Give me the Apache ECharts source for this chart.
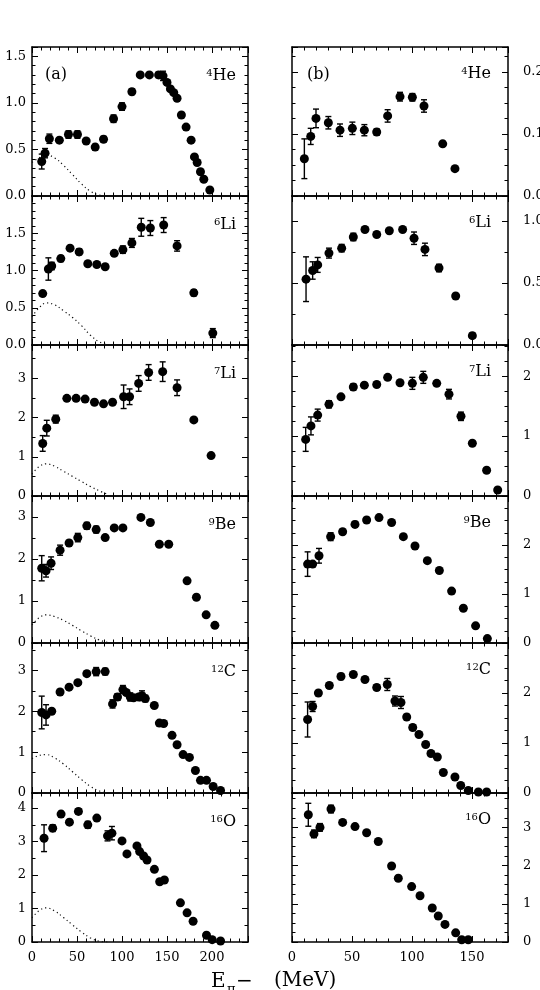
<!DOCTYPE html>
<html>
<head>
<meta charset="utf-8">
<script src="https://cdn.jsdelivr.net/npm/echarts@6/dist/echarts.min.js"></script>
<style>
  html, body { margin: 0; background: #fff; }
  #chart { width: 540px; height: 990px; }
</style>
</head>
<body>
<div id="chart"></div>
<script>
// [E (MeV), value, error]
const he4a = [[10.8,0.37,0.08],[14.5,0.46,0.05],[19.3,0.615,0.05],[30.4,0.60,0.02],[40.5,0.66,0.04],[50.5,0.66,0.04],[60.2,0.59,0.02],[70.2,0.525,0.03],[79.5,0.61,0.03],[90.6,0.83,0.04],[100,0.96,0.04],[111,1.12,0.03],[120.3,1.30,0.01],[130.4,1.30,0.01],[140.7,1.30,0.03],[145.6,1.29,0.05],[150,1.22,0.02],[153.8,1.15,0.02],[157.5,1.11,0.02],[161.2,1.05,0.02],[166,0.87,0.02],[171.2,0.74,0.02],[176.8,0.60,0.01],[180.5,0.42,0.02],[183.5,0.36,0.02],[187.2,0.26,0.02],[190.9,0.18,0.02],[197.6,0.065,0.01]];
const he4b = [[10.3,0.060,0.032],[15.6,0.096,0.013],[20,0.125,0.015],[30.3,0.118,0.01],[40,0.106,0.01],[50.3,0.109,0.01],[60.3,0.106,0.009],[70.6,0.103,0.005],[79.7,0.129,0.01],[90,0.160,0.007],[100.3,0.159,0.006],[110,0.145,0.01],[125.6,0.084,0.004],[135.8,0.044,0.003]];
const li6a = [[11.9,0.69,0.03],[18.2,1.02,0.15],[21.9,1.06,0.05],[32,1.16,0.04],[42.3,1.30,0.03],[52.4,1.25,0.04],[62,1.09,0.03],[72,1.08,0.02],[81.3,1.05,0.02],[91.4,1.23,0.02],[101,1.28,0.05],[111,1.37,0.06],[121.4,1.58,0.12],[131.5,1.57,0.1],[146.3,1.61,0.1],[161.2,1.33,0.07],[179.8,0.70,0.04],[200.9,0.16,0.06]];
const li6b = [[11.7,0.53,0.18],[17.2,0.60,0.07],[21.4,0.645,0.06],[30.8,0.74,0.04],[41.4,0.78,0.03],[51.1,0.87,0.03],[60.8,0.93,0.02],[70.6,0.89,0],[81.1,0.92,0.01],[92.2,0.93,0.01],[101.7,0.86,0.05],[110.8,0.77,0.05],[122.5,0.62,0.03],[136.4,0.395,0],[150.3,0.075,0.02]];
const li7a = [[11.9,1.34,0.2],[16.4,1.73,0.2],[26.4,1.96,0.1],[38.7,2.49,0.03],[49,2.49,0.03],[59,2.47,0.03],[69.4,2.39,0.03],[79.5,2.35,0.03],[89.5,2.39,0.03],[101.8,2.53,0.3],[108.4,2.53,0.2],[118.5,2.87,0.2],[129.6,3.15,0.2],[145.2,3.17,0.25],[161.2,2.76,0.2],[179.8,1.94,0.05],[199,1.03,0.03]];
const li7b = [[11.4,0.945,0.2],[15.8,1.17,0.15],[21.4,1.35,0.1],[30.8,1.53,0.06],[40.8,1.655,0.03],[51.1,1.82,0.05],[60.3,1.85,0.03],[70.6,1.86,0.03],[79.7,1.98,0.02],[90,1.89,0.02],[100.3,1.88,0.1],[109.4,1.98,0.1],[120.6,1.88,0.03],[130.8,1.70,0.08],[140.8,1.33,0.07],[150.3,0.88,0.02],[162.2,0.43,0.02],[171.4,0.10,0.02]];
const be9a = [[10.8,1.78,0.3],[15.6,1.72,0.15],[21.2,1.90,0.15],[31.2,2.21,0.12],[41.2,2.38,0.06],[50.9,2.51,0.1],[60.9,2.79,0.08],[71.3,2.70,0.08],[81.3,2.51,0.05],[91.4,2.74,0.03],[101,2.74,0.03],[121,2.99,0.03],[131.5,2.87,0.02],[141.5,2.35,0.02],[151.9,2.35,0.02],[172.3,1.48,0.02],[182.7,1.09,0.02],[193.5,0.67,0.02],[203.2,0.42,0.01]];
const be9b = [[13,1.61,0.25],[17.2,1.61,0.05],[22.5,1.78,0.15],[32.2,2.17,0.08],[42.2,2.27,0.05],[52.5,2.42,0.06],[62.2,2.51,0.05],[72.5,2.56,0.03],[83,2.46,0.02],[92.8,2.17,0.02],[102.5,1.98,0.02],[112.8,1.68,0.03],[122.8,1.48,0.03],[133,1.06,0.02],[142.8,0.71,0.02],[153,0.35,0.02],[162.8,0.09,0.04]];
const c12a = [[10.8,1.97,0.4],[15.6,1.91,0.25],[21.9,2.0,0.05],[31.2,2.47,0.06],[41.2,2.59,0.05],[50.9,2.70,0.04],[60.9,2.92,0.06],[71.3,2.97,0.1],[81.3,2.97,0.08],[89.5,2.18,0.1],[95,2.35,0.08],[101,2.53,0.1],[104.7,2.46,0.05],[109.2,2.35,0.1],[112.9,2.33,0.05],[118.5,2.35,0.05],[122.2,2.38,0.12],[125.9,2.31,0.08],[135.9,2.14,0.03],[141.5,1.71,0.04],[146.3,1.70,0.04],[155.6,1.41,0.02],[161.2,1.18,0.02],[167.9,0.94,0.02],[174.9,0.87,0.02],[181.6,0.55,0.02],[187.2,0.31,0.02],[193.9,0.31,0.02],[201.3,0.16,0.02],[209.5,0.06,0.01]];
const c12b = [[13,1.47,0.35],[17.2,1.73,0.1],[22,2.0,0.03],[31.1,2.15,0.05],[40.8,2.33,0.06],[51.1,2.37,0.04],[60.8,2.27,0.05],[70.6,2.11,0.05],[79.4,2.17,0.12],[85.8,1.84,0.1],[90.8,1.81,0.12],[95.6,1.52,0.05],[100.6,1.31,0.05],[105.8,1.17,0.03],[111.4,0.97,0.02],[115.8,0.79,0.02],[121.1,0.72,0.02],[126.1,0.41,0.02],[135.8,0.32,0.01],[140.6,0.15,0.01],[146.9,0.05,0.01],[155.3,0.02,0],[162.2,0.02,0]];
const o16a = [[13.4,3.10,0.4],[23,3.40,0.1],[32.3,3.82,0.08],[41.6,3.58,0.05],[51.6,3.90,0.08],[62,3.50,0.1],[72,3.70,0.04],[83.9,3.17,0.15],[88.8,3.25,0.2],[100,3.02,0.04],[105.5,2.63,0.05],[116.6,2.87,0.03],[119.6,2.70,0.03],[124,2.57,0.03],[127.8,2.45,0.03],[136,2.17,0.03],[141.9,1.80,0.03],[147.1,1.85,0.03],[164.9,1.17,0.03],[172.3,0.87,0.03],[179,0.62,0.03],[193.9,0.20,0.02],[200.2,0.07,0.02],[209.5,0.03,0.01]];
const o16b = [[13.6,3.33,0.3],[18.3,2.83,0.1],[23.3,3.0,0.1],[32.5,3.48,0.1],[42.2,3.13,0.05],[52.5,3.02,0.06],[62.2,2.86,0.04],[71.9,2.63,0.02],[83,1.99,0.06],[88.6,1.67,0.02],[99.7,1.45,0.05],[106.7,1.21,0.02],[116.9,0.89,0.02],[121.9,0.68,0.02],[127.5,0.46,0.02],[136.4,0.24,0.02],[141.4,0.06,0.02],[146.9,0.06,0.02]];

// dotted curves in column (a)
const curveE = [0, 8, 16, 25, 35, 45, 55, 65, 75, 85];
const curveHe4 = [0.36, 0.41, 0.44, 0.41, 0.33, 0.23, 0.13, 0.05, 0.01, 0];
const curveLi6 = [0.38, 0.50, 0.565, 0.54, 0.46, 0.37, 0.26, 0.13, 0.04, 0];
const curveLi7 = [0.56, 0.75, 0.82, 0.76, 0.63, 0.50, 0.37, 0.24, 0.13, 0.03];
const curveBe9 = [0.43, 0.60, 0.67, 0.63, 0.54, 0.42, 0.29, 0.17, 0.07, 0.01];
const curveC12 = [0.84, 0.92, 0.94, 0.86, 0.71, 0.52, 0.33, 0.16, 0.05, 0];
const curveO16 = [0.72, 0.94, 1.02, 0.93, 0.73, 0.51, 0.30, 0.12, 0.02, 0];

const xTicksA = [0, 50, 100, 150, 200];
const xTicksB = [0, 50, 100, 150];
const nuclei = [["4", "He"], ["6", "Li"], ["7", "Li"], ["9", "Be"], ["12", "C"], ["16", "O"]];

const FONT = "DejaVu Serif";
const rowTops = [47, 196, 345, 496, 643, 793, 942];
const colLeft = [32, 292];
const colWidth = 216;

const panels = [
  { col: 0, row: 0, data: he4a, curve: curveHe4, yMax: 1.6, yInt: 0.5, minor: 5, dec: 1 },
  { col: 0, row: 1, data: li6a, curve: curveLi6, yMax: 2.0, yInt: 0.5, minor: 5, dec: 1 },
  { col: 0, row: 2, data: li7a, curve: curveLi7, yMax: 3.85, yInt: 1, minor: 2, dec: 0 },
  { col: 0, row: 3, data: be9a, curve: curveBe9, yMax: 3.5, yInt: 1, minor: 2, dec: 0 },
  { col: 0, row: 4, data: c12a, curve: curveC12, yMax: 3.67, yInt: 1, minor: 2, dec: 0 },
  { col: 0, row: 5, data: o16a, curve: curveO16, yMax: 4.45, yInt: 1, minor: 2, dec: 0 },
  { col: 1, row: 0, data: he4b, yMax: 0.24, yInt: 0.1, minor: 4, dec: 1 },
  { col: 1, row: 1, data: li6b, yMax: 1.2, yInt: 0.5, minor: 2, dec: 1 },
  { col: 1, row: 2, data: li7b, yMax: 2.52, yInt: 1, minor: 4, dec: 0 },
  { col: 1, row: 3, data: be9b, yMax: 3.0, yInt: 1, minor: 4, dec: 0 },
  { col: 1, row: 4, data: c12b, yMax: 3.0, yInt: 1, minor: 4, dec: 0 },
  { col: 1, row: 5, data: o16b, yMax: 3.9, yInt: 1, minor: 4, dec: 0 },
];

const black = { color: "#000" };

function renderErr(params, api) {
  const x = api.value(0);
  const lo = api.coord([x, api.value(1)]);
  const hi = api.coord([x, api.value(2)]);
  const w = 3;
  const st = { stroke: "#000", lineWidth: 1.4 };
  return {
    type: "group",
    children: [
      { type: "line", shape: { x1: lo[0], y1: lo[1], x2: hi[0], y2: hi[1] }, style: st },
      { type: "line", shape: { x1: lo[0] - w, y1: lo[1], x2: lo[0] + w, y2: lo[1] }, style: st },
      { type: "line", shape: { x1: hi[0] - w, y1: hi[1], x2: hi[0] + w, y2: hi[1] }, style: st },
    ],
  };
}

const grid = [], xAxis = [], yAxis = [], series = [], graphic = [];

panels.forEach((p, i) => {
  const top = rowTops[p.row];
  const h = rowTops[p.row + 1] - top;
  grid.push({ left: colLeft[p.col], top: top, width: colWidth, height: h, outerBoundsMode: "none" });

  const xMax = p.col === 0 ? 240 : 180;
  const ticks = p.col === 0 ? xTicksA : xTicksB;
  ["bottom", "top"].forEach((pos) => {
    xAxis.push({
      type: "value", gridIndex: i, position: pos, min: 0, max: xMax, interval: ticks[1] - ticks[0],
      axisLine: { show: true, onZero: false, lineStyle: { color: "#000", width: 1.5 } },
      axisTick: { show: true, inside: true, length: 6, lineStyle: black },
      minorTick: { show: true, splitNumber: 5, length: 3.5, lineStyle: black },
      splitLine: { show: false },
      axisLabel: {
        show: pos === "bottom" && p.row === 5, showMaxLabel: false,
        color: "#000", fontFamily: FONT, fontSize: 13, margin: 9,
      },
    });
  });

  ["left", "right"].forEach((pos) => {
    const labelSide = p.col === 0 ? "left" : "right";
    yAxis.push({
      type: "value", gridIndex: i, position: pos, min: 0, max: p.yMax, interval: p.yInt,
      axisLine: { show: true, onZero: false, lineStyle: { color: "#000", width: 1.5 } },
      axisTick: { show: true, inside: true, length: 6, lineStyle: black },
      minorTick: { show: true, splitNumber: p.minor, length: 3.5, lineStyle: black },
      splitLine: { show: false },
      axisLabel: {
        show: pos === labelSide, showMaxLabel: false,
        color: "#000", fontFamily: FONT, fontSize: 13, margin: pos === "left" ? 6 : 15,
        formatter: (v) => v.toFixed(p.dec),
      },
    });
  });

  series.push({
    type: "custom", xAxisIndex: 2 * i, yAxisIndex: 2 * i, renderItem: renderErr,
    encode: { x: 0, y: [1, 2] }, silent: true, z: 2,
    data: p.data.filter((d) => d[2] > 0).map((d) => [d[0], d[1] - d[2], d[1] + d[2]]),
  });
  series.push({
    type: "scatter", xAxisIndex: 2 * i, yAxisIndex: 2 * i, symbol: "circle", symbolSize: 9,
    itemStyle: { color: "#000", opacity: 1 }, z: 3,
    data: p.data.map((d) => [d[0], d[1]]),
  });
  if (p.curve) {
    series.push({
      type: "line", xAxisIndex: 2 * i, yAxisIndex: 2 * i, smooth: 0.4, showSymbol: false,
      lineStyle: { color: "#111", width: 1.2, type: [1.2, 3] },
      data: curveE.map((e, k) => [e, p.curve[k]]),
    });
  }

  const nuc = nuclei[p.row];
  graphic.push({
    type: "text", x: p.col === 0 ? 236 : 491, y: top + (p.col === 0 ? 21 : 19),
    style: {
      text: `{s|${nuc[0]}}{n|${nuc[1]}}`, align: "right", verticalAlign: "top",
      rich: {
        s: { fontFamily: FONT, fontSize: 10, fill: "#000", verticalAlign: "top" },
        n: { fontFamily: FONT, fontSize: 16, fill: "#000" },
      },
    },
  });
});

graphic.push({ type: "text", x: 45, y: 67, style: { text: "(a)", font: `16px "${FONT}"`, fill: "#000" } });
graphic.push({ type: "text", x: 307, y: 67, style: { text: "(b)", font: `16px "${FONT}"`, fill: "#000" } });
// axis title (cut off at bottom edge in the original)
graphic.push({ type: "text", x: 211, y: 972, style: { text: "E", font: `20px "${FONT}"`, fill: "#000" } });
graphic.push({ type: "text", x: 227, y: 983, style: { text: "π", font: `13px "${FONT}"`, fill: "#000" } });
graphic.push({ type: "text", x: 236, y: 972, style: { text: "−", font: `20px "${FONT}"`, fill: "#000" } });
graphic.push({ type: "text", x: 274, y: 971, style: { text: "(MeV)", font: `20px "${FONT}"`, fill: "#000" } });

const chart = echarts.init(document.getElementById("chart"));
chart.setOption({
  animation: false,
  backgroundColor: "#fff",
  grid, xAxis, yAxis, series, graphic,
});
</script>
</body>
</html>
